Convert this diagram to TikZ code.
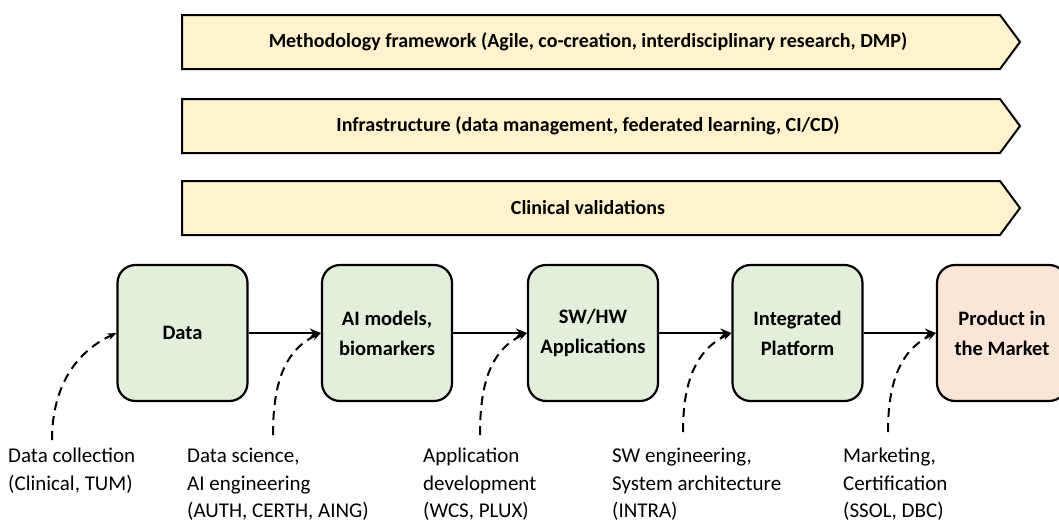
\documentclass[tikz,border=0pt]{standalone}
\usepackage{fontspec}
\setmainfont{Carlito}
\usetikzlibrary{arrows.meta}

\definecolor{bannerfill}{HTML}{FFF2CC}
\definecolor{stagefill}{HTML}{E2EFDA}
\definecolor{marketfill}{HTML}{FBE5D6}

\tikzset{
  banner/.style={draw, line width=2pt, fill=bannerfill},
  bannertext/.style={font=\bfseries\fontsize{20}{24}\selectfont},
  stage/.style={draw, line width=2.2pt, rounded corners=18pt, fill=stagefill,
    minimum width=130pt, minimum height=136pt, align=center,
    font=\bfseries\fontsize{20.5}{30}\selectfont},
  flow/.style={line width=2pt, -{Stealth[length=11pt,width=9pt]}},
  role/.style={line width=2pt, dash pattern=on 9pt off 6pt, -{Stealth[length=9pt,width=7pt]}},
  note/.style={align=left, anchor=north west, inner sep=0pt,
    font=\fontsize{21}{27.5}\selectfont}
}

\begin{document}
\begin{tikzpicture}[x=1pt,y=-1pt]
  \useasboundingbox (0,0) rectangle (1059,522);

  % banners
  \draw[banner] (182,15) -- (1000,15) -- (1020,42) -- (1000,69) -- (182,69) -- cycle;
  \node[bannertext] (methodology) at (588,42) {Methodology framework (Agile, co-creation, interdisciplinary research, DMP)};
  \draw[banner] (182,99) -- (1000,99) -- (1020,126) -- (1000,153) -- (182,153) -- cycle;
  \node[bannertext] (infrastructure) at (588,126) {Infrastructure (data management, federated learning, CI/CD)};
  \draw[banner] (182,181) -- (1000,181) -- (1020,208) -- (1000,235) -- (182,235) -- cycle;
  \node[bannertext] (validations) at (588,208) {Clinical validations};

  % stages
  \node[stage] (data) at (182.5,333) {Data};
  \node[stage] (aimodels) at (387,333) {AI models,\\biomarkers};
  \node[stage] (apps) at (593,333) {SW/HW\\Applications};
  \node[stage] (platform) at (797.5,333) {Integrated\\Platform};
  \node[stage, fill=marketfill] (market) at (1002,333) {Product in\\the Market};

  \draw[flow] (data) -- (aimodels);
  \draw[flow] (aimodels) -- (apps);
  \draw[flow] (apps) -- (platform);
  \draw[flow] (platform) -- (market);

  % contributions
  \coordinate (c1) at (52,440);
  \coordinate (c2) at (273,435);
  \coordinate (c3) at (480,435);
  \coordinate (c4) at (683,432);
  \coordinate (c5) at (888,432);
  \draw[role] (c1) to[out=90,in=205] (data.west);
  \draw[role] (c2) to[out=90,in=205] (aimodels.west);
  \draw[role] (c3) to[out=90,in=205] (apps.west);
  \draw[role] (c4) to[out=90,in=205] (platform.west);
  \draw[role] (c5) to[out=90,in=205] (market.west);

  \node[note] (collection) at (8,448) {Data collection\\(Clinical, TUM)};
  \node[note] (science) at (187,448) {Data science,\\AI engineering\\(AUTH, CERTH, AING)};
  \node[note] (development) at (423,448) {Application\\development\\(WCS, PLUX)};
  \node[note] (engineering) at (612,448) {SW engineering,\\System architecture\\(INTRA)};
  \node[note] (marketing) at (843,448) {Marketing,\\Certification\\(SSOL, DBC)};
\end{tikzpicture}
\end{document}
